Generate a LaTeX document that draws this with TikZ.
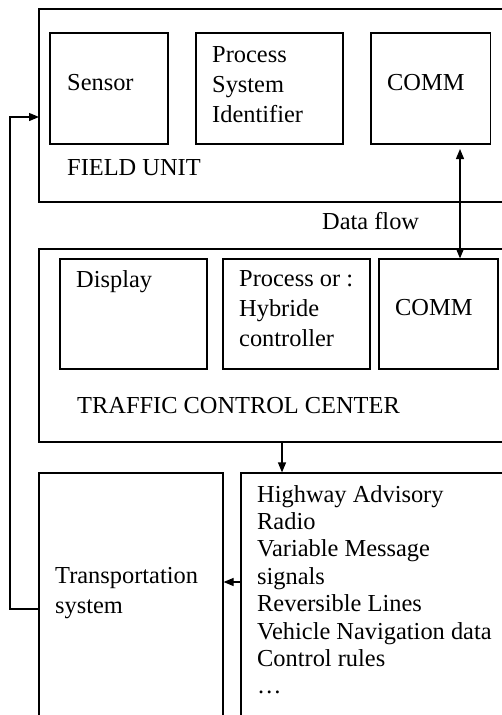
\documentclass[tikz,border=0pt]{standalone}
\usepackage{fontspec}
\setmainfont{Liberation Serif}
\usetikzlibrary{arrows.meta}
\tikzset{
  box/.style={draw, line width=1.2pt, rectangle, inner sep=0pt},
  txt/.style={anchor=base west, inner sep=0pt, align=left,
              font=\fontsize{24.4}{30}\selectfont},
  listtxt/.style={anchor=base west, inner sep=0pt, align=left,
              font=\fontsize{24.4}{27.4}\selectfont},
  arr/.style={line width=1.2pt, -{Triangle[length=10pt,width=8pt]}},
  darr/.style={line width=1.2pt, {Triangle[length=10pt,width=8pt]}-{Triangle[length=10pt,width=8pt]}}
}
\newcommand{\boxat}[5]{% name, x1, y1, x2, y2
  \node[box, minimum width={(#4-#2)*1pt}, minimum height={(#5-#3)*1pt}]
    (#1) at ({(#2+#4)/2},{(#3+#5)/2}) {};}
\begin{document}
\begin{tikzpicture}[x=1pt,y=-1pt]
  \useasboundingbox[clip] (0,0) rectangle (502,715);
  \fill[white] (0,0) rectangle (502,715);

  % field unit
  \boxat{field}{39}{9}{530}{202}
  \boxat{sensor}{50}{33}{168}{144}
  \boxat{psi}{196}{33}{343}{144}
  \boxat{fcomm}{371}{33}{490.5}{144}
  \node[txt] (tsensor) at (67,90) {Sensor};
  \node[txt, anchor=north west] (tpsi) at (212,46) {Process\\System\\Identifier};
  \node[txt] (tfcomm) at (387,90) {COMM};
  \node[txt] (tfield) at (67,175) {FIELD UNIT};

  \node[txt] (tflow) at (322,229) {Data flow};

  % traffic control center
  \boxat{tcc}{39}{249}{530}{442}
  \boxat{disp}{60}{259}{207}{369}
  \boxat{proc}{223}{259}{370}{369}
  \boxat{tcomm}{379}{259}{498}{369}
  \node[txt] (tdisp) at (76,287) {Display};
  \node[txt, anchor=north west] (tproc) at (239,270) {Process or :\\Hybride\\controller};
  \node[txt] (ttcomm) at (395,315) {COMM};
  \node[txt] (ttcc) at (77,413) {TRAFFIC CONTROL CENTER};

  % bottom row
  \boxat{trans}{39}{473}{223}{740}
  \boxat{lst}{241}{473}{530}{740}
  \node[txt, anchor=north west] (ttrans) at (55,567) {Transportation\\system};
  \node[listtxt, anchor=north west] (tlst) at (257,485)
    {Highway Advisory\\Radio\\Variable Message\\signals\\Reversible Lines\\Vehicle Navigation data\\Control rules\\\dots};

  % connectors
  \coordinate (dftop) at (460,149);
  \draw[darr] (dftop) -- (dftop |- tcomm.north);

  \coordinate (tccout) at (282,442);
  \draw[arr] (tccout) -- (tccout |- lst.north);

  \coordinate (lstout) at (241,582);
  \draw[arr] (lstout) -- (lstout -| trans.east);

  \coordinate (fbout) at (39,609);
  \coordinate (fbin) at (39,117);
  \draw[arr] (fbout) -- (10,609) -- (10,117) -- (fbin);
\end{tikzpicture}
\end{document}
